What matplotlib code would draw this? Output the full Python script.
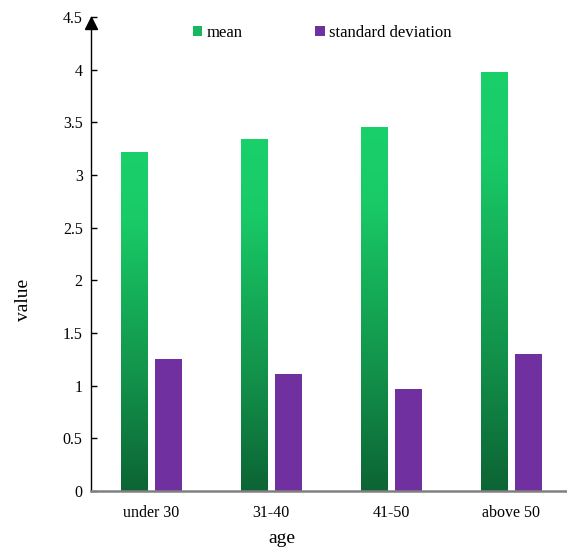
import numpy as np
import matplotlib
matplotlib.use("Agg")
import matplotlib.pyplot as plt
import matplotlib.transforms as mtransforms
from matplotlib.colors import LinearSegmentedColormap
from matplotlib.patches import Patch

plt.rcParams['font.family'] = ['Liberation Serif', 'DejaVu Serif']

# 各年龄段的均值和标准差
ages = ['under 30', '31-40', '41-50', 'above 50']
mean = [3.22, 3.34, 3.46, 3.98]
std_dev = [1.25, 1.11, 0.97, 1.30]

green_cmap = LinearSegmentedColormap.from_list(
    'green_grad',
    [(0.0, '#0c6434'), (0.3, '#128e49'), (0.55, '#15ac57'),
     (0.8, '#19cb67'), (1.0, '#1ad06a')])
purple = '#7030a0'

fig = plt.figure(figsize=(5.67, 5.47), dpi=100)
ax = fig.add_axes([91 / 567, 56 / 547, 476 / 567, 474 / 547])

x = np.arange(len(ages))
w = 0.225
grad = np.linspace(0, 1, 256).reshape(-1, 1)

bars = ax.bar(x - 0.138, mean, w, facecolor='none', edgecolor='none')
for b in bars:
    im = ax.imshow(grad, cmap=green_cmap, origin='lower', aspect='auto',
                   extent=[b.get_x(), b.get_x() + b.get_width(), 0, b.get_height()],
                   zorder=2)
    im.set_clip_path(b)
ax.bar(x + 0.142, std_dev, w, color=purple, zorder=2)

ax.set_xlim(-0.5, 3.467)
ax.set_ylim(0, 4.5)
ax.set_yticks(np.arange(0, 4.51, 0.5))
ax.set_yticklabels(['0', '0.5', '1', '1.5', '2', '2.5', '3', '3.5', '4', '4.5'])
ax.set_xticks(x)
ax.set_xticklabels(ages)
ax.tick_params(axis='y', direction='in', length=4, width=1, labelsize=11.5, pad=6)
ax.tick_params(axis='x', length=0, labelsize=11.5, pad=10)

for s in ['top', 'right']:
    ax.spines[s].set_visible(False)
ax.spines['left'].set_color('black')
ax.spines['left'].set_linewidth(1)
ax.spines['bottom'].set_color('#808080')
ax.spines['bottom'].set_linewidth(1.8)
ax.spines['bottom'].set_zorder(3)

# y轴顶端箭头
arrow_tr = mtransforms.offset_copy(ax.transAxes, fig=fig, x=0, y=-6, units='dots')
ax.plot(0, 1, marker='^', color='black', markersize=9, transform=arrow_tr,
        clip_on=False, zorder=5)

ax.set_xlabel('age', fontsize=14)
ax.set_ylabel('value', fontsize=14)
ax.xaxis.set_label_coords(0.401, -0.083)
ax.yaxis.set_label_coords(-0.124, 0.403)

handles = [Patch(facecolor='#17b75d', edgecolor='none', label='mean'),
           Patch(facecolor=purple, edgecolor='none', label='standard deviation')]
fig.legend(handles=handles, loc='center', bbox_to_anchor=(0.568, 0.94), ncol=2,
           frameon=False, fontsize=12, handlelength=0.55, handleheight=0.55,
           handletextpad=0.25, columnspacing=4.4)

fig.savefig('out.png', dpi=100)
